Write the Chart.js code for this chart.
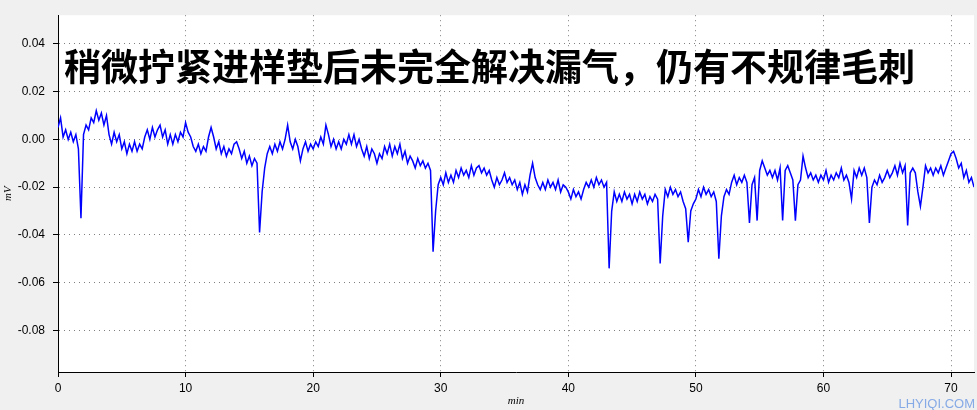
<!DOCTYPE html>
<html lang="zh">
<head>
<meta charset="UTF-8">
<title>漏气 基线</title>
<script src="https://cdn.jsdelivr.net/npm/chart.js"></script>
<style>
  body { margin: 0; background: #f0f0f0; }
  canvas { display: block; }
</style>
<script>
    // 采样间隔 (min)
    const sampleStep = 0.2;

    // 信号值 (mV)，每行 2 分钟
    const signal = [
      0.005, 0.009, 0.001, 0.004, 0.000, 0.003, -0.001, 0.002, -0.004, -0.033,
      0.002, 0.006, 0.004, 0.009, 0.007, 0.012, 0.008, 0.011, 0.006, 0.010,
      0.002, -0.002, 0.003, -0.001, 0.002, -0.004, -0.001, -0.006, -0.002, -0.005,
      -0.001, -0.005, -0.002, -0.004, 0.001, 0.004, 0.000, 0.005, 0.001, 0.004,
      0.006, 0.001, 0.004, -0.002, 0.002, -0.002, 0.002, -0.001, 0.003, 0.001,
      0.007, 0.003, 0.001, -0.003, -0.005, -0.002, -0.006, -0.003, -0.005, 0.001,
      0.005, 0.001, -0.004, -0.001, -0.006, -0.003, -0.007, -0.004, -0.006, -0.002,
      -0.001, -0.004, -0.008, -0.005, -0.010, -0.007, -0.011, -0.008, -0.010, -0.039,
      -0.022, -0.012, -0.006, -0.003, -0.006, -0.002, -0.005, -0.001, -0.004, 0.000,
      0.006, -0.001, -0.004, 0.000, -0.003, -0.009, -0.004, -0.001, -0.005, -0.002,
      -0.004, -0.001, -0.003, 0.001, -0.002, 0.006, 0.002, -0.003, 0.000, -0.004,
      -0.001, -0.004, 0.000, -0.002, 0.002, -0.002, 0.002, -0.003, 0.000, -0.004,
      -0.007, -0.003, -0.008, -0.004, -0.006, -0.010, -0.006, -0.008, -0.003, -0.006,
      -0.002, -0.007, -0.003, -0.006, -0.002, -0.008, -0.005, -0.010, -0.007, -0.009,
      -0.012, -0.008, -0.011, -0.009, -0.012, -0.010, -0.013, -0.047, -0.030, -0.019,
      -0.016, -0.019, -0.014, -0.018, -0.015, -0.018, -0.013, -0.016, -0.012, -0.015,
      -0.013, -0.016, -0.011, -0.015, -0.012, -0.011, -0.014, -0.012, -0.015, -0.013,
      -0.017, -0.020, -0.016, -0.019, -0.017, -0.014, -0.018, -0.016, -0.019, -0.017,
      -0.021, -0.018, -0.023, -0.019, -0.022, -0.015, -0.010, -0.016, -0.019, -0.021,
      -0.018, -0.021, -0.017, -0.020, -0.018, -0.021, -0.017, -0.022, -0.019, -0.020,
      -0.022, -0.025, -0.021, -0.024, -0.022, -0.025, -0.021, -0.018, -0.020, -0.017,
      -0.020, -0.016, -0.019, -0.017, -0.020, -0.018, -0.054, -0.030, -0.022, -0.026,
      -0.023, -0.026, -0.022, -0.025, -0.023, -0.027, -0.023, -0.026, -0.022, -0.025,
      -0.023, -0.027, -0.024, -0.026, -0.023, -0.025, -0.052, -0.032, -0.021, -0.024,
      -0.020, -0.023, -0.021, -0.024, -0.022, -0.026, -0.029, -0.043, -0.030, -0.027,
      -0.025, -0.021, -0.024, -0.020, -0.023, -0.021, -0.024, -0.022, -0.026, -0.050,
      -0.032, -0.024, -0.021, -0.023, -0.018, -0.015, -0.019, -0.016, -0.018, -0.015,
      -0.018, -0.035, -0.019, -0.016, -0.034, -0.013, -0.009, -0.012, -0.015, -0.013,
      -0.016, -0.013, -0.017, -0.012, -0.034, -0.013, -0.011, -0.014, -0.017, -0.034,
      -0.019, -0.017, -0.007, -0.012, -0.016, -0.014, -0.017, -0.015, -0.018, -0.015,
      -0.017, -0.013, -0.018, -0.015, -0.017, -0.014, -0.016, -0.012, -0.017, -0.015,
      -0.018, -0.025, -0.013, -0.016, -0.012, -0.015, -0.012, -0.016, -0.035, -0.020,
      -0.017, -0.019, -0.015, -0.018, -0.016, -0.013, -0.016, -0.014, -0.011, -0.015,
      -0.010, -0.014, -0.011, -0.036, -0.014, -0.012, -0.014, -0.022, -0.028, -0.020,
      -0.011, -0.014, -0.012, -0.015, -0.012, -0.014, -0.011, -0.015, -0.012, -0.009,
      -0.006, -0.005, -0.008, -0.012, -0.010, -0.016, -0.013, -0.018, -0.016, -0.020
    ];

    // 坐标轴
    const xMin = 0, xMax = 71.8, xStep = 10;
    const yMin = -0.0974, yMax = 0.052, yStep = 0.02;

    const chartTitle = '稍微拧紧进样垫后未完全解决漏气，仍有不规律毛刺';
    const xTitle = 'min';
    const yTitle = 'mV';
    const watermark = 'LHYIQI.COM';

    window.addEventListener("load", () => {

      let points = [];
      for (let i = 0; i < signal.length; i++) {
        points.push({ x: i * sampleStep, y: signal[i] });
      }

      // 背景 + 图内标题 + 水印
      const decor = {
        id: 'decor',
        beforeDraw(chart) {
          const ctx = chart.ctx;
          const a = chart.chartArea;
          ctx.save();
          ctx.fillStyle = '#f0f0f0';
          ctx.fillRect(0, 0, chart.width, chart.height);
          ctx.fillStyle = '#ffffff';
          ctx.fillRect(a.left, a.top, a.right - a.left, a.bottom - a.top);
          ctx.restore();
        },
        afterDraw(chart) {
          const ctx = chart.ctx;
          ctx.save();
          ctx.font = 'bold 37px "Noto Sans CJK SC"';
          ctx.fillStyle = '#000000';
          ctx.textBaseline = 'middle';
          ctx.fillText(chartTitle, 64, 67);
          ctx.font = '13px "Liberation Sans"';
          ctx.fillStyle = '#86aae6';
          ctx.textAlign = 'right';
          ctx.textBaseline = 'alphabetic';
          ctx.fillText(watermark, 975, 408);
          ctx.restore();
        }
      };

      const config = {
        type: 'line',
        data: {
          datasets: [{
            data: points,
            borderColor: '#0000ff',
            borderWidth: 1.5,
            pointRadius: 0,
            tension: 0
          }]
        },
        options: {
          responsive: false,
          animation: false,
          layout: { padding: { top: 10, right: 3 } },
          plugins: { legend: { display: false }, tooltip: { enabled: false } },
          scales: {
            x: {
              type: 'linear',
              min: xMin, max: xMax,
              afterFit: (s) => { s.height = 38; },
              border: { color: '#000', width: 1, dash: [1, 4] },
              grid: { color: '#808080', tickColor: '#000', tickLength: 5, tickBorderDash: [] },
              ticks: { stepSize: xStep, includeBounds: false, color: '#000', padding: 4, maxRotation: 0,
                       font: { family: 'Liberation Sans', size: 12 } },
              title: { display: true, text: xTitle, color: '#000', padding: { top: 0, bottom: 2 },
                       font: { family: 'Liberation Serif', size: 11, style: 'italic' } }
            },
            y: {
              min: yMin, max: yMax,
              afterFit: (s) => { s.width = 58; },
              border: { color: '#000', width: 1, dash: [1, 4] },
              grid: { color: '#808080', tickColor: '#000', tickLength: 5, tickBorderDash: [] },
              ticks: { stepSize: yStep, includeBounds: false, color: '#000', padding: 8,
                       font: { family: 'Liberation Sans', size: 12 },
                       callback: (v) => v.toFixed(2) },
              title: { display: true, text: yTitle, color: '#000', padding: { top: 2, bottom: 0 },
                       font: { family: 'Liberation Serif', size: 11, style: 'italic' } }
            }
          }
        },
        plugins: [decor]
      };

      new Chart(document.getElementById('myChart'), config);
    });
</script>
</head>
<body>
  <canvas id="myChart" width="977" height="410"></canvas>
</body>
</html>
